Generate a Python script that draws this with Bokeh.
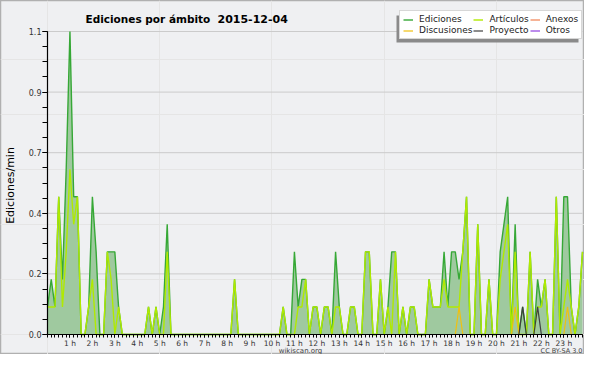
import math
from bokeh.plotting import figure
from bokeh.models import (Range1d, FixedTicker, Legend, LegendItem, Label,
                          LinearAxis, BoxAnnotation)
from bokeh.embed import file_html
from bokeh.resources import INLINE

# ---------------- data (edits per minute, 10-minute buckets) ----------------
minutes = list(range(0, 1440, 10))

ediciones = [
    0.1, 0.2, 0.1, 0.5, 0.2, 0.6, 1.1, 0.5, 0.5, 0.0, 0.0, 0.1,
    0.5, 0.3, 0.0, 0.0, 0.3, 0.3, 0.3, 0.1, 0.0, 0.0, 0.0, 0.0,
    0.0, 0.0, 0.0, 0.1, 0.0, 0.1, 0.0, 0.1, 0.4, 0.0, 0.0, 0.0,
    0.0, 0.0, 0.0, 0.0, 0.0, 0.0, 0.0, 0.0, 0.0, 0.0, 0.0, 0.0,
    0.0, 0.0, 0.2, 0.0, 0.0, 0.0, 0.0, 0.0, 0.0, 0.0, 0.0, 0.0,
    0.0, 0.0, 0.0, 0.1, 0.0, 0.0, 0.3, 0.1, 0.2, 0.2, 0.0, 0.1,
    0.1, 0.0, 0.1, 0.1, 0.0, 0.3, 0.1, 0.0, 0.0, 0.1, 0.1, 0.0,
    0.0, 0.3, 0.3, 0.0, 0.0, 0.2, 0.0, 0.1, 0.3, 0.3, 0.0, 0.1,
    0.0, 0.1, 0.1, 0.0, 0.0, 0.0, 0.2, 0.1, 0.1, 0.1, 0.3, 0.1,
    0.3, 0.3, 0.2, 0.3, 0.5, 0.0, 0.0, 0.4, 0.0, 0.0, 0.2, 0.0,
    0.0, 0.3, 0.4, 0.5, 0.0, 0.4, 0.0, 0.1, 0.0, 0.3, 0.0, 0.2,
    0.1, 0.2, 0.0, 0.0, 0.5, 0.0, 0.5, 0.5, 0.1, 0.0, 0.1, 0.3,
]

articulos = [
    0.1, 0.1, 0.1, 0.5, 0.1, 0.3, 0.6, 0.4, 0.5, 0.0, 0.0, 0.1,
    0.2, 0.0, 0.0, 0.0, 0.3, 0.2, 0.0, 0.1, 0.0, 0.0, 0.0, 0.0,
    0.0, 0.0, 0.0, 0.1, 0.0, 0.1, 0.0, 0.0, 0.3, 0.0, 0.0, 0.0,
    0.0, 0.0, 0.0, 0.0, 0.0, 0.0, 0.0, 0.0, 0.0, 0.0, 0.0, 0.0,
    0.0, 0.0, 0.2, 0.0, 0.0, 0.0, 0.0, 0.0, 0.0, 0.0, 0.0, 0.0,
    0.0, 0.0, 0.0, 0.1, 0.0, 0.0, 0.0, 0.1, 0.1, 0.2, 0.0, 0.1,
    0.1, 0.0, 0.1, 0.1, 0.0, 0.1, 0.1, 0.0, 0.0, 0.1, 0.1, 0.0,
    0.0, 0.3, 0.3, 0.0, 0.0, 0.2, 0.0, 0.1, 0.0, 0.3, 0.0, 0.1,
    0.0, 0.1, 0.1, 0.0, 0.0, 0.0, 0.2, 0.1, 0.1, 0.1, 0.2, 0.1,
    0.1, 0.1, 0.1, 0.3, 0.5, 0.0, 0.0, 0.4, 0.0, 0.0, 0.2, 0.0,
    0.0, 0.2, 0.3, 0.4, 0.0, 0.3, 0.0, 0.0, 0.0, 0.3, 0.0, 0.1,
    0.1, 0.2, 0.0, 0.0, 0.5, 0.0, 0.1, 0.2, 0.1, 0.0, 0.1, 0.3,
]

discusiones = [
    0.0, 0.0, 0.0, 0.0, 0.0, 0.0, 0.0, 0.0, 0.0, 0.0, 0.0, 0.0,
    0.0, 0.0, 0.0, 0.0, 0.0, 0.0, 0.0, 0.0, 0.0, 0.0, 0.0, 0.0,
    0.0, 0.0, 0.0, 0.0, 0.0, 0.0, 0.0, 0.0, 0.0, 0.0, 0.0, 0.0,
    0.0, 0.0, 0.0, 0.0, 0.0, 0.0, 0.0, 0.0, 0.0, 0.0, 0.0, 0.0,
    0.0, 0.0, 0.0, 0.0, 0.0, 0.0, 0.0, 0.0, 0.0, 0.0, 0.0, 0.0,
    0.0, 0.0, 0.0, 0.0, 0.0, 0.0, 0.0, 0.0, 0.0, 0.0, 0.0, 0.0,
    0.0, 0.0, 0.0, 0.0, 0.0, 0.0, 0.0, 0.0, 0.0, 0.0, 0.0, 0.0,
    0.0, 0.0, 0.0, 0.0, 0.0, 0.0, 0.0, 0.0, 0.0, 0.0, 0.0, 0.0,
    0.0, 0.0, 0.0, 0.0, 0.0, 0.0, 0.0, 0.0, 0.0, 0.0, 0.0, 0.0,
    0.0, 0.0, 0.1, 0.0, 0.0, 0.0, 0.0, 0.0, 0.0, 0.0, 0.0, 0.0,
    0.0, 0.0, 0.0, 0.0, 0.0, 0.1, 0.0, 0.0, 0.0, 0.0, 0.0, 0.0,
    0.0, 0.0, 0.0, 0.0, 0.0, 0.0, 0.0, 0.1, 0.0, 0.0, 0.0, 0.0,
]

proyecto = [
    0.0, 0.0, 0.0, 0.0, 0.0, 0.0, 0.0, 0.0, 0.0, 0.0, 0.0, 0.0,
    0.0, 0.0, 0.0, 0.0, 0.0, 0.0, 0.0, 0.0, 0.0, 0.0, 0.0, 0.0,
    0.0, 0.0, 0.0, 0.0, 0.0, 0.0, 0.0, 0.0, 0.0, 0.0, 0.0, 0.0,
    0.0, 0.0, 0.0, 0.0, 0.0, 0.0, 0.0, 0.0, 0.0, 0.0, 0.0, 0.0,
    0.0, 0.0, 0.0, 0.0, 0.0, 0.0, 0.0, 0.0, 0.0, 0.0, 0.0, 0.0,
    0.0, 0.0, 0.0, 0.0, 0.0, 0.0, 0.0, 0.0, 0.0, 0.0, 0.0, 0.0,
    0.0, 0.0, 0.0, 0.0, 0.0, 0.0, 0.0, 0.0, 0.0, 0.0, 0.0, 0.0,
    0.0, 0.0, 0.0, 0.0, 0.0, 0.0, 0.0, 0.0, 0.0, 0.0, 0.0, 0.0,
    0.0, 0.0, 0.0, 0.0, 0.0, 0.0, 0.0, 0.0, 0.0, 0.0, 0.0, 0.0,
    0.0, 0.0, 0.0, 0.0, 0.0, 0.0, 0.0, 0.0, 0.0, 0.0, 0.0, 0.0,
    0.0, 0.0, 0.0, 0.0, 0.0, 0.0, 0.0, 0.1, 0.0, 0.0, 0.0, 0.1,
    0.0, 0.0, 0.0, 0.0, 0.0, 0.0, 0.0, 0.0, 0.0, 0.0, 0.0, 0.0,
]

anexos = [0.0] * len(minutes)
otros = [0.0] * len(minutes)

y_tick_values = [0.0, 0.22, 0.44, 0.66, 0.88, 1.1]
y_tick_labels = ["0.0", "0.2", "0.4", "0.7", "0.9", "1.1"]
x_tick_hours = [1, 2, 3, 4, 5, 6, 7, 8, 9, 10, 11, 12, 13, 14, 15, 16, 17, 18, 19, 20, 21, 22, 23]
x_tick_labels = ["1 h", "2 h", "3 h", "4 h", "5 h", "6 h", "7 h", "8 h", "9 h", "10 h", "11 h", "12 h",
                 "13 h", "14 h", "15 h", "16 h", "17 h", "18 h", "19 h", "20 h", "21 h", "22 h", "23 h"]

title_main = "Ediciones por ámbito"
title_date = "2015-12-04"
y_label = "Ediciones/min"
footer_site = "wikiscan.org"
footer_license = "CC BY-SA 3.0"

# ---------------- styling / layout ----------------
BG = "#eff0f2"
GRID = "#cbcbcb"
FILL = "#9fc99f"
C_ED = "#36a836"
C_ART = "#b0ea00"
C_DISC = "#f0c010"
C_PROY = "#404040"
C_ANX = "#f08050"
C_OTR = "#9040e0"
FONT = "DejaVu Sans"

W, H = 584, 354
# pixel placement of the data area inside the canvas
PX_X0, PX_X1 = 47, 582
PX_Y_TOP, PX_Y_BOT = 31, 334
Y_MAX = 1.1

hours = [m / 60 for m in minutes]
x_last = hours[-1]
sx = (PX_X1 - PX_X0) / x_last
sy = (PX_Y_BOT - PX_Y_TOP) / Y_MAX
x_start = -PX_X0 / sx
x_end = x_start + W / sx
y_start = -(H - PX_Y_BOT) / sy
y_end = y_start + H / sy

p = figure(width=W, height=H, output_backend="svg", toolbar_location=None,
           x_range=Range1d(x_start, x_end), y_range=Range1d(y_start, y_end),
           x_axis_location=None, y_axis_location=None, min_border=0,
           background_fill_color=BG, border_fill_color=BG)
p.outline_line_color = "#b0b0b0"
p.outline_line_width = 1.5
p.title.text = ""

# horizontal grid lines (drawn under the data)
p.segment(x0=[0] * len(y_tick_values), x1=[x_last] * len(y_tick_values),
          y0=y_tick_values, y1=y_tick_values, line_color=GRID, line_width=1)

# axes fixed at the data origin
yaxis = LinearAxis(fixed_location=0, bounds=(0, Y_MAX),
                   ticker=FixedTicker(ticks=y_tick_values,
                                      minor_ticks=[k * 0.055 for k in range(21)]))
yaxis.major_label_overrides = dict(zip(y_tick_values, y_tick_labels))
xaxis = LinearAxis(fixed_location=0, bounds=(0, x_last),
                   ticker=FixedTicker(ticks=x_tick_hours, minor_ticks=hours))
xaxis.major_label_overrides = dict(zip(x_tick_hours, x_tick_labels))
for ax in (xaxis, yaxis):
    ax.axis_line_color = "black"
    ax.axis_line_width = 1.2
    ax.major_tick_line_color = "black"
    ax.minor_tick_line_color = "black"
    ax.major_tick_in = 0
    ax.minor_tick_in = 0
    ax.major_label_text_font = FONT
    ax.major_label_text_color = "#333333"
yaxis.major_label_text_font_size = "8px"
xaxis.major_label_text_font_size = "7.5px"
yaxis.major_tick_out = 5
yaxis.minor_tick_out = 5
yaxis.major_label_standoff = 1
xaxis.major_tick_out = 3
xaxis.minor_tick_out = 3
xaxis.major_label_standoff = 1

# glyphs
r_anx = p.line(hours, anexos, line_color=C_ANX, line_width=1.2)
r_otr = p.line(hours, otros, line_color=C_OTR, line_width=1.2)
p.varea(x=hours, y1=0, y2=ediciones, fill_color=FILL, fill_alpha=1.0)
r_ed = p.line(hours, ediciones, line_color=C_ED, line_width=1.4)
r_art = p.line(hours, articulos, line_color=C_ART, line_width=1.4)
r_disc = p.line(hours, discusiones, line_color=C_DISC, line_width=1.2)
r_proy = p.line(hours, proyecto, line_color=C_PROY, line_width=1.2)

p.add_layout(xaxis, "below")
p.add_layout(yaxis, "left")

# legend with a drop shadow
LEG_L, LEG_T, LEG_W, LEG_H = 399, 12, 182, 27
p.add_layout(BoxAnnotation(left=LEG_L - 3, right=LEG_L - 3 + LEG_W,
                           top=H - (LEG_T + 3), bottom=H - (LEG_T + 3 + LEG_H),
                           left_units="screen", right_units="screen",
                           top_units="screen", bottom_units="screen",
                           fill_color="#8a8a8a", fill_alpha=1.0, line_color=None))
legend = Legend(items=[
    LegendItem(label="Ediciones", renderers=[r_ed]),
    LegendItem(label="Discusiones", renderers=[r_disc]),
    LegendItem(label="Artículos", renderers=[r_art]),
    LegendItem(label="Proyecto", renderers=[r_proy]),
    LegendItem(label="Anexos", renderers=[r_anx]),
    LegendItem(label="Otros", renderers=[r_otr]),
], ncols=3, location=(LEG_L, H - (LEG_T + LEG_H)),
    background_fill_color="white", background_fill_alpha=1.0,
    border_line_color="#b0b0b0", border_line_width=1,
    glyph_width=10, glyph_height=9, label_height=9, label_standoff=6,
    padding=3, spacing=1, margin=0,
    label_text_font=FONT, label_text_font_size="9px", label_text_color="#222222")
p.add_layout(legend, "center")

# texts
p.add_layout(Label(x=85, y=H - 18, x_units="screen", y_units="screen",
                   text=title_main, text_font=FONT, text_font_size="10.5px",
                   text_font_style="bold", text_color="black", text_baseline="alphabetic"))
p.add_layout(Label(x=217, y=H - 18, x_units="screen", y_units="screen",
                   text=title_date, text_font=FONT, text_font_size="11px",
                   text_font_style="bold", text_color="black", text_baseline="alphabetic"))
p.add_layout(Label(x=10, y=H - 185, x_units="screen", y_units="screen",
                   text=y_label, angle=math.pi / 2, text_font=FONT, text_font_size="11px",
                   text_color="black", text_align="center", text_baseline="middle"))
p.add_layout(Label(x=300, y=H - 350, x_units="screen", y_units="screen",
                   text=footer_site, text_font=FONT, text_font_size="7px",
                   text_color="#444444", text_align="center", text_baseline="middle"))
p.add_layout(Label(x=PX_X1, y=H - 350, x_units="screen", y_units="screen",
                   text=footer_license, text_font=FONT, text_font_size="6.5px",
                   text_color="#444444", text_align="right", text_baseline="middle"))

open("out.html", "w").write(file_html(p, INLINE))
